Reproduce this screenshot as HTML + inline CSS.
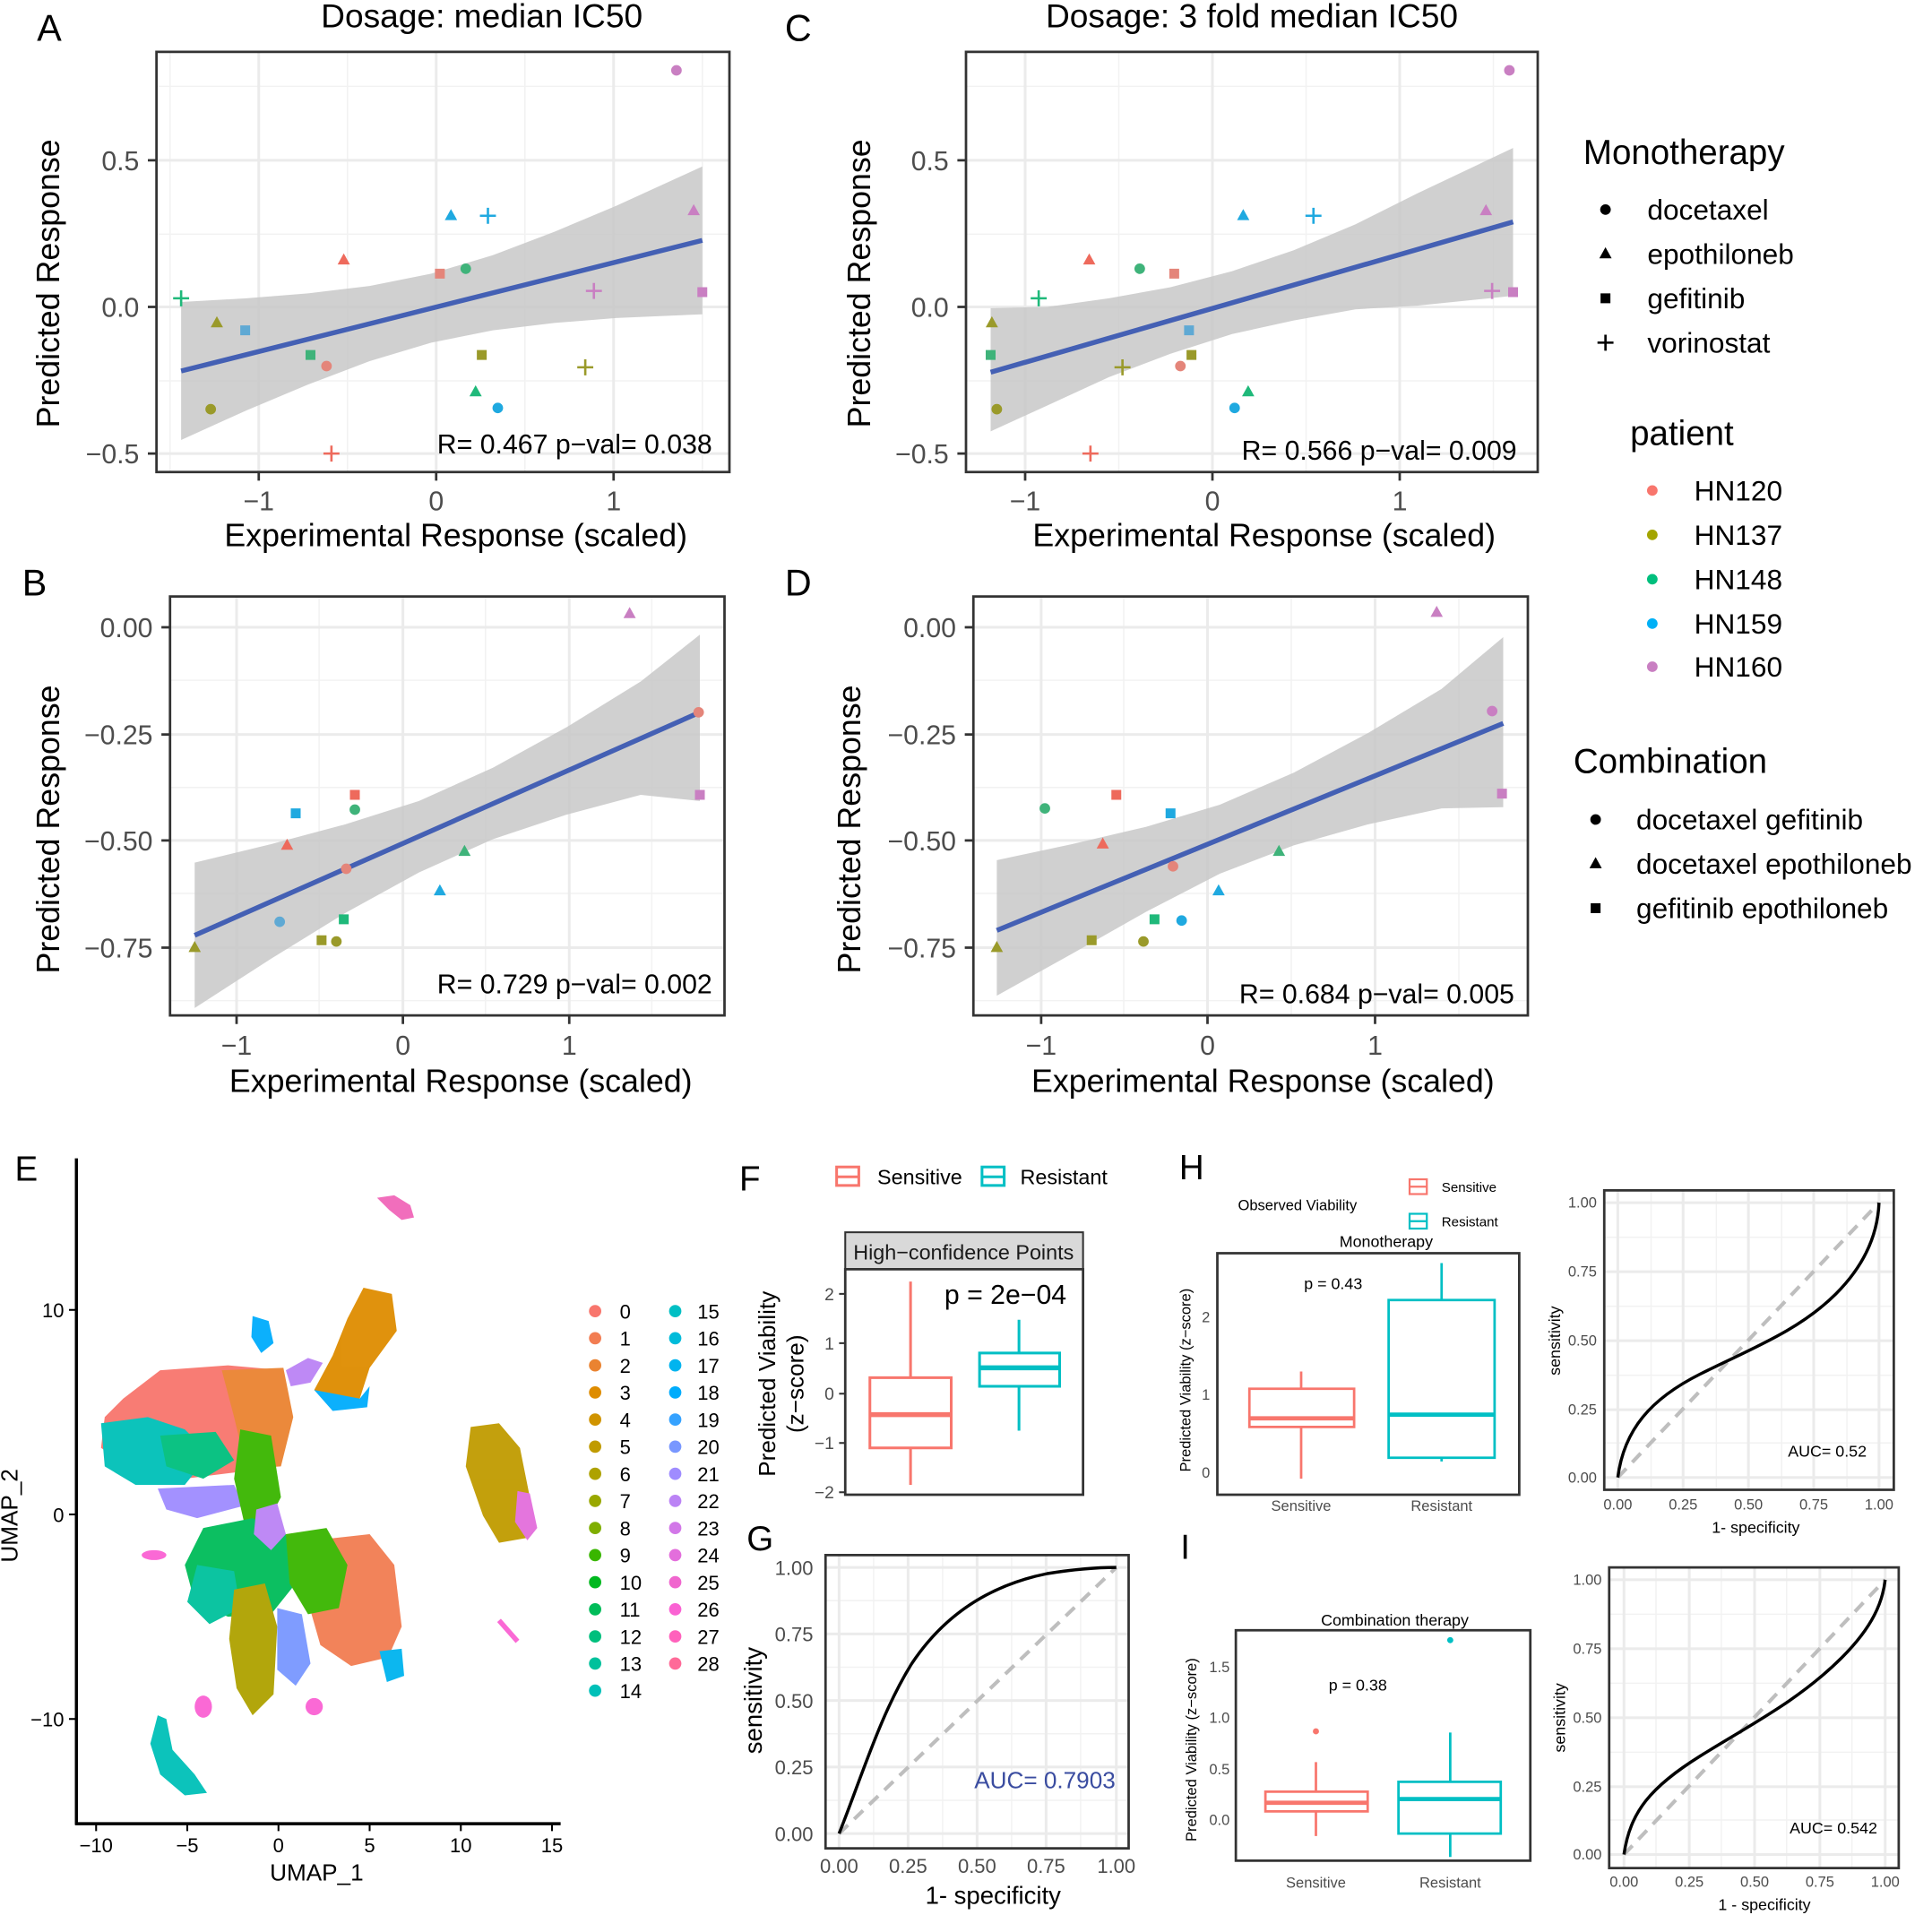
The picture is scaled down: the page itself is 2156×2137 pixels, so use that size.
<!DOCTYPE html>
<html><head><meta charset="utf-8"><style>
html,body{margin:0;padding:0;background:#fff}
svg{display:block}
text{font-family:"Liberation Sans",Arial,sans-serif;fill:#000}
.tk{font-size:22px;fill:#4d4d4d}
.tk text{fill:#4d4d4d}
.at{font-size:26px}
.sm{font-size:12px}
.sm text, text.sm{fill:#4d4d4d}
.gr text{fill:#4d4d4d}
.gM{stroke:#ebebeb;stroke-width:2.2}
.gm{stroke:#f2f2f2;stroke-width:1.1}
.bx{fill:none;stroke:#333;stroke-width:2}
</style></head><body>
<svg width="2156" height="2137" viewBox="0 0 1568 1554" xmlns="http://www.w3.org/2000/svg">
<defs>
<circle id="c" r="4.3"/>
<path id="t" d="M0,-5.5L5,3.5L-5,3.5Z"/>
<rect id="s" x="-4" y="-4" width="8" height="8"/>
<path id="p" d="M-6.5,0H6.5M0,-6.5V6.5" fill="none" stroke-width="1.9"/>
</defs>
<rect width="1568" height="1554" fill="#fff"/>

<!-- ===== Panel A ===== -->
<text x="30" y="33" font-size="30">A</text>
<text x="391" y="22" font-size="27" text-anchor="middle">Dosage: median IC50</text>
<g>
<line class="gm" x1="127" x2="592" y1="70" y2="70"/><line class="gm" x1="127" x2="592" y1="190" y2="190"/><line class="gm" x1="127" x2="592" y1="309" y2="309"/>
<line class="gm" y1="42" y2="383" x1="138" x2="138"/><line class="gm" y1="42" y2="383" x1="282" x2="282"/><line class="gm" y1="42" y2="383" x1="426" x2="426"/><line class="gm" y1="42" y2="383" x1="570" x2="570"/>
<line class="gM" x1="127" x2="592" y1="130" y2="130"/><line class="gM" x1="127" x2="592" y1="249" y2="249"/><line class="gM" x1="127" x2="592" y1="368" y2="368"/>
<line class="gM" y1="42" y2="383" x1="210" x2="210"/><line class="gM" y1="42" y2="383" x1="354" x2="354"/><line class="gM" y1="42" y2="383" x1="498" x2="498"/>
<path d="M147,245 L200,242 L250,238 L300,232 L350,222 L400,207 L450,188 L500,167 L570,135 L570,255 L500,258 L450,262 L400,268 L350,278 L300,293 L250,312 L200,333 L147,357Z" fill="#c8c8c8" opacity="0.85"/>
<line x1="147" y1="301" x2="570" y2="195" stroke="#4460b4" stroke-width="4"/>
<use href="#c" x="549" y="57" fill="#c97fc2"/><use href="#t" x="563" y="171" fill="#c97fc2"/><use href="#p" x="482" y="236" stroke="#c97fc2"/><use href="#s" x="570" y="237" fill="#c97fc2"/>
<use href="#t" x="366" y="175" fill="#1fa9e0"/><use href="#p" x="396" y="175" stroke="#1fa9e0"/><use href="#s" x="199" y="268" fill="#5fa9d4"/><use href="#c" x="404" y="331" fill="#1fa9e0"/>
<use href="#t" x="279" y="211" fill="#ee6a5c"/><use href="#s" x="357" y="222" fill="#e4857a"/><use href="#c" x="265" y="297" fill="#e4857a"/><use href="#p" x="269" y="368" stroke="#ee6a5c"/>
<use href="#c" x="378" y="218" fill="#3fb37a"/><use href="#p" x="147" y="242" stroke="#1fb97a"/><use href="#s" x="252" y="288" fill="#3fb37a"/><use href="#t" x="386" y="318" fill="#1fb97a"/>
<use href="#t" x="176" y="262" fill="#9a9a2a"/><use href="#s" x="391" y="288" fill="#9a9a2a"/><use href="#p" x="475" y="298" stroke="#9a9a2a"/><use href="#c" x="171" y="332" fill="#9a9a2a"/>
<text x="578" y="368" font-size="22" text-anchor="end">R= 0.467 p−val= 0.038</text>
<rect class="bx" x="127" y="42" width="465" height="341"/>
</g>
<g class="tk" text-anchor="end"><text x="113" y="138">0.5</text><text x="113" y="257">0.0</text><text x="113" y="376">−0.5</text></g>
<g stroke="#333" stroke-width="2"><line x1="120" x2="127" y1="130" y2="130"/><line x1="120" x2="127" y1="249" y2="249"/><line x1="120" x2="127" y1="368" y2="368"/><line x1="210" x2="210" y1="383" y2="390"/><line x1="354" x2="354" y1="383" y2="390"/><line x1="498" x2="498" y1="383" y2="390"/></g>
<g class="tk" text-anchor="middle"><text x="210" y="414">−1</text><text x="354" y="414">0</text><text x="498" y="414">1</text></g>
<text class="at" x="370" y="443" text-anchor="middle">Experimental Response (scaled)</text>
<text class="at" transform="translate(48,230) rotate(-90)" text-anchor="middle">Predicted Response</text>

<!-- ===== Panel C ===== -->
<text x="637" y="33" font-size="30">C</text>
<text x="1016" y="22" font-size="27" text-anchor="middle">Dosage: 3 fold median IC50</text>
<g>
<line class="gm" x1="784" x2="1248" y1="70" y2="70"/><line class="gm" x1="784" x2="1248" y1="190" y2="190"/><line class="gm" x1="784" x2="1248" y1="309" y2="309"/>
<line class="gm" y1="42" y2="383" x1="908" x2="908"/><line class="gm" y1="42" y2="383" x1="1060" x2="1060"/><line class="gm" y1="42" y2="383" x1="1212" x2="1212"/>
<line class="gM" x1="784" x2="1248" y1="130" y2="130"/><line class="gM" x1="784" x2="1248" y1="249" y2="249"/><line class="gM" x1="784" x2="1248" y1="368" y2="368"/>
<line class="gM" y1="42" y2="383" x1="832" x2="832"/><line class="gM" y1="42" y2="383" x1="984" x2="984"/><line class="gM" y1="42" y2="383" x1="1136" x2="1136"/>
<path d="M804,250 L850,249 L900,242 L950,233 L1000,220 L1050,203 L1100,182 L1150,157 L1228,120 L1228,240 L1150,248 L1100,251 L1050,260 L1000,271 L950,287 L900,306 L850,329 L804,350Z" fill="#c8c8c8" opacity="0.85"/>
<line x1="804" y1="302" x2="1228" y2="180" stroke="#4460b4" stroke-width="4"/>
<use href="#c" x="1225" y="57" fill="#c97fc2"/><use href="#t" x="1206" y="171" fill="#c97fc2"/><use href="#p" x="1211" y="236" stroke="#c97fc2"/><use href="#s" x="1228" y="237" fill="#c97fc2"/>
<use href="#t" x="1009" y="175" fill="#1fa9e0"/><use href="#p" x="1066" y="175" stroke="#1fa9e0"/><use href="#s" x="965" y="268" fill="#5fa9d4"/><use href="#c" x="1002" y="331" fill="#1fa9e0"/>
<use href="#t" x="884" y="211" fill="#ee6a5c"/><use href="#s" x="953" y="222" fill="#e4857a"/><use href="#c" x="958" y="297" fill="#e4857a"/><use href="#p" x="885" y="368" stroke="#ee6a5c"/>
<use href="#c" x="925" y="218" fill="#3fb37a"/><use href="#p" x="843" y="242" stroke="#1fb97a"/><use href="#s" x="804" y="288" fill="#3fb37a"/><use href="#t" x="1013" y="318" fill="#1fb97a"/>
<use href="#t" x="805" y="262" fill="#9a9a2a"/><use href="#s" x="967" y="288" fill="#9a9a2a"/><use href="#p" x="911" y="298" stroke="#9a9a2a"/><use href="#c" x="809" y="332" fill="#9a9a2a"/>
<text x="1231" y="373" font-size="22" text-anchor="end">R= 0.566 p−val= 0.009</text>
<rect class="bx" x="784" y="42" width="464" height="341"/>
</g>
<g class="tk" text-anchor="end"><text x="770" y="138">0.5</text><text x="770" y="257">0.0</text><text x="770" y="376">−0.5</text></g>
<g stroke="#333" stroke-width="2"><line x1="777" x2="784" y1="130" y2="130"/><line x1="777" x2="784" y1="249" y2="249"/><line x1="777" x2="784" y1="368" y2="368"/><line x1="832" x2="832" y1="383" y2="390"/><line x1="984" x2="984" y1="383" y2="390"/><line x1="1136" x2="1136" y1="383" y2="390"/></g>
<g class="tk" text-anchor="middle"><text x="832" y="414">−1</text><text x="984" y="414">0</text><text x="1136" y="414">1</text></g>
<text class="at" x="1026" y="443" text-anchor="middle">Experimental Response (scaled)</text>
<text class="at" transform="translate(706,230) rotate(-90)" text-anchor="middle">Predicted Response</text>

<!-- ===== Panel B ===== -->
<text x="18" y="483" font-size="30">B</text>
<g>
<line class="gm" x1="138" x2="588" y1="552" y2="552"/><line class="gm" x1="138" x2="588" y1="639" y2="639"/><line class="gm" x1="138" x2="588" y1="725" y2="725"/><line class="gm" x1="138" x2="588" y1="812" y2="812"/>
<line class="gm" y1="484" y2="824" x1="259" x2="259"/><line class="gm" y1="484" y2="824" x1="394" x2="394"/><line class="gm" y1="484" y2="824" x1="529" x2="529"/>
<line class="gM" x1="138" x2="588" y1="509" y2="509"/><line class="gM" x1="138" x2="588" y1="596" y2="596"/><line class="gM" x1="138" x2="588" y1="682" y2="682"/><line class="gM" x1="138" x2="588" y1="769" y2="769"/>
<line class="gM" y1="484" y2="824" x1="192" x2="192"/><line class="gM" y1="484" y2="824" x1="327" x2="327"/><line class="gM" y1="484" y2="824" x1="462" x2="462"/>
<path d="M158,700 L220,685 L280,669 L340,650 L400,623 L460,590 L520,553 L568,515 L568,650 L520,645 L460,661 L400,681 L340,708 L280,741 L220,778 L158,818Z" fill="#c8c8c8" opacity="0.85"/>
<line x1="158" y1="759" x2="568" y2="578" stroke="#4460b4" stroke-width="4"/>
<use href="#t" x="511" y="498" fill="#c97fc2"/><use href="#c" x="567" y="578" fill="#e4857a"/><use href="#s" x="568" y="645" fill="#c97fc2"/>
<use href="#s" x="288" y="645" fill="#ee6a5c"/><use href="#s" x="240" y="660" fill="#1fa9e0"/><use href="#c" x="288" y="657" fill="#3fb37a"/><use href="#t" x="233" y="686" fill="#ee6a5c"/><use href="#c" x="281" y="705" fill="#e4857a"/>
<use href="#t" x="377" y="691" fill="#3fb37a"/><use href="#t" x="357" y="723" fill="#1fa9e0"/><use href="#c" x="227" y="748" fill="#5fa9d4"/><use href="#s" x="279" y="746" fill="#1fb97a"/>
<use href="#s" x="261" y="763" fill="#9a9a2a"/><use href="#c" x="273" y="764" fill="#9a9a2a"/><use href="#t" x="158" y="769" fill="#9a9a2a"/>
<text x="578" y="806" font-size="22" text-anchor="end">R= 0.729 p−val= 0.002</text>
<rect class="bx" x="138" y="484" width="450" height="340"/>
</g>
<g class="tk" text-anchor="end"><text x="124" y="517">0.00</text><text x="124" y="604">−0.25</text><text x="124" y="690">−0.50</text><text x="124" y="777">−0.75</text></g>
<g stroke="#333" stroke-width="2"><line x1="131" x2="138" y1="509" y2="509"/><line x1="131" x2="138" y1="596" y2="596"/><line x1="131" x2="138" y1="682" y2="682"/><line x1="131" x2="138" y1="769" y2="769"/><line x1="192" x2="192" y1="824" y2="831"/><line x1="327" x2="327" y1="824" y2="831"/><line x1="462" x2="462" y1="824" y2="831"/></g>
<g class="tk" text-anchor="middle"><text x="192" y="856">−1</text><text x="327" y="856">0</text><text x="462" y="856">1</text></g>
<text class="at" x="374" y="886" text-anchor="middle">Experimental Response (scaled)</text>
<text class="at" transform="translate(48,673) rotate(-90)" text-anchor="middle">Predicted Response</text>

<!-- ===== Panel D ===== -->
<text x="637" y="483" font-size="30">D</text>
<g>
<line class="gm" x1="790" x2="1240" y1="552" y2="552"/><line class="gm" x1="790" x2="1240" y1="639" y2="639"/><line class="gm" x1="790" x2="1240" y1="725" y2="725"/><line class="gm" x1="790" x2="1240" y1="812" y2="812"/>
<line class="gm" y1="484" y2="824" x1="912" x2="912"/><line class="gm" y1="484" y2="824" x1="1048" x2="1048"/><line class="gm" y1="484" y2="824" x1="1184" x2="1184"/>
<line class="gM" x1="790" x2="1240" y1="509" y2="509"/><line class="gM" x1="790" x2="1240" y1="596" y2="596"/><line class="gM" x1="790" x2="1240" y1="682" y2="682"/><line class="gM" x1="790" x2="1240" y1="769" y2="769"/>
<line class="gM" y1="484" y2="824" x1="845" x2="845"/><line class="gM" y1="484" y2="824" x1="980" x2="980"/><line class="gM" y1="484" y2="824" x1="1116" x2="1116"/>
<path d="M809,698 L870,685 L930,671 L990,653 L1050,627 L1110,595 L1170,559 L1220,517 L1220,655 L1170,656 L1110,669 L1050,686 L990,709 L930,740 L870,774 L809,808Z" fill="#c8c8c8" opacity="0.85"/>
<line x1="809" y1="755" x2="1220" y2="587" stroke="#4460b4" stroke-width="4"/>
<use href="#t" x="1166" y="497" fill="#c97fc2"/><use href="#c" x="1211" y="577" fill="#c97fc2"/><use href="#s" x="1219" y="644" fill="#c97fc2"/>
<use href="#c" x="848" y="656" fill="#3fb37a"/><use href="#s" x="906" y="645" fill="#ee6a5c"/><use href="#t" x="895" y="685" fill="#ee6a5c"/><use href="#s" x="950" y="660" fill="#1fa9e0"/><use href="#c" x="952" y="703" fill="#e4857a"/>
<use href="#t" x="1038" y="691" fill="#3fb37a"/><use href="#t" x="989" y="723" fill="#1fa9e0"/><use href="#s" x="937" y="746" fill="#1fb97a"/><use href="#c" x="959" y="747" fill="#1fa9e0"/>
<use href="#s" x="886" y="763" fill="#9a9a2a"/><use href="#c" x="928" y="764" fill="#9a9a2a"/><use href="#t" x="809" y="769" fill="#9a9a2a"/>
<text x="1229" y="814" font-size="22" text-anchor="end">R= 0.684 p−val= 0.005</text>
<rect class="bx" x="790" y="484" width="450" height="340"/>
</g>
<g class="tk" text-anchor="end"><text x="776" y="517">0.00</text><text x="776" y="604">−0.25</text><text x="776" y="690">−0.50</text><text x="776" y="777">−0.75</text></g>
<g stroke="#333" stroke-width="2"><line x1="783" x2="790" y1="509" y2="509"/><line x1="783" x2="790" y1="596" y2="596"/><line x1="783" x2="790" y1="682" y2="682"/><line x1="783" x2="790" y1="769" y2="769"/><line x1="845" x2="845" y1="824" y2="831"/><line x1="980" x2="980" y1="824" y2="831"/><line x1="1116" x2="1116" y1="824" y2="831"/></g>
<g class="tk" text-anchor="middle"><text x="845" y="856">−1</text><text x="980" y="856">0</text><text x="1116" y="856">1</text></g>
<text class="at" x="1025" y="886" text-anchor="middle">Experimental Response (scaled)</text>
<text class="at" transform="translate(698,673) rotate(-90)" text-anchor="middle">Predicted Response</text>

<!-- ===== Legend ===== -->
<text x="1285" y="133" font-size="28">Monotherapy</text>
<use href="#c" x="1303" y="170" fill="#000"/><text x="1337" y="178" font-size="23">docetaxel</text>
<use href="#t" x="1303" y="206" fill="#000"/><text x="1337" y="214" font-size="23">epothiloneb</text>
<use href="#s" x="1303" y="242" fill="#000"/><text x="1337" y="250" font-size="23">gefitinib</text>
<use href="#p" x="1303" y="278" stroke="#000"/><text x="1337" y="286" font-size="23">vorinostat</text>
<text x="1323" y="361" font-size="28">patient</text>
<use href="#c" x="1341" y="398" fill="#f8766d"/><text x="1375" y="406" font-size="23">HN120</text>
<use href="#c" x="1341" y="434" fill="#a3a500"/><text x="1375" y="442" font-size="23">HN137</text>
<use href="#c" x="1341" y="470" fill="#00bf7d"/><text x="1375" y="478" font-size="23">HN148</text>
<use href="#c" x="1341" y="506" fill="#00b0f6"/><text x="1375" y="514" font-size="23">HN159</text>
<use href="#c" x="1341" y="541" fill="#c97fc2"/><text x="1375" y="549" font-size="23">HN160</text>
<text x="1277" y="627" font-size="28">Combination</text>
<use href="#c" x="1295" y="665" fill="#000"/><text x="1328" y="673" font-size="23">docetaxel gefitinib</text>
<use href="#t" x="1295" y="701" fill="#000"/><text x="1328" y="709" font-size="23">docetaxel epothiloneb</text>
<use href="#s" x="1295" y="737" fill="#000"/><text x="1328" y="745" font-size="23">gefitinib epothiloneb</text>

<!-- ===== Panel E UMAP ===== -->
<text x="12" y="958" font-size="28">E</text>
<g opacity="0.95">
<path d="M306,972 L320,970 L333,978 L336,988 L326,990 L316,982Z" fill="#f066b8"/>
<path d="M295,1045 L318,1050 L322,1080 L300,1110 L292,1135 L268,1140 L255,1128 L270,1100 L282,1070Z" fill="#de8c00"/>
<path d="M255,1128 L292,1135 L300,1125 L298,1142 L270,1145Z" fill="#00acfc"/>
<path d="M205,1068 L218,1072 L222,1090 L212,1098 L204,1085Z" fill="#00acfc"/>
<path d="M232,1112 L250,1102 L262,1106 L252,1122 L236,1125Z" fill="#bb83f5"/>
<path d="M382,1158 L405,1155 L422,1175 L430,1215 L428,1248 L405,1252 L392,1230 L378,1190Z" fill="#c09b00"/>
<path d="M420,1210 L430,1212 L436,1240 L428,1250 L418,1235Z" fill="#e36edc"/>
<path d="M100,1135 L130,1112 L185,1108 L230,1112 L235,1150 L225,1185 L190,1195 L150,1200 L105,1190 L82,1175 L85,1150Z" fill="#f8766d"/>
<path d="M180,1112 L230,1110 L238,1150 L228,1190 L200,1192 L190,1150Z" fill="#ea8331"/>
<path d="M82,1155 L120,1150 L150,1160 L170,1180 L150,1205 L110,1205 L85,1190Z" fill="#00c0b8"/>
<path d="M130,1165 L175,1162 L190,1185 L165,1200 L135,1190Z" fill="#00bf7d"/>
<path d="M128,1208 L190,1205 L198,1222 L160,1232 L135,1225Z" fill="#9f8cff"/>
<path d="M195,1160 L220,1165 L228,1215 L215,1240 L198,1235 L190,1200Z" fill="#39b600"/>
<path d="M165,1240 L205,1232 L232,1245 L240,1285 L220,1310 L185,1312 L158,1300 L150,1270Z" fill="#00bc59"/>
<path d="M160,1270 L190,1275 L195,1305 L170,1318 L152,1300Z" fill="#00c19c"/>
<path d="M255,1250 L300,1245 L320,1270 L326,1320 L315,1345 L285,1352 L260,1335 L250,1300Z" fill="#f27d52"/>
<path d="M232,1245 L265,1240 L282,1270 L275,1305 L250,1310 L235,1285Z" fill="#39b600"/>
<path d="M308,1340 L326,1338 L328,1360 L314,1365Z" fill="#00b4ef"/>
<path d="M190,1290 L215,1285 L225,1320 L222,1375 L205,1392 L192,1370 L186,1330Z" fill="#aea200"/>
<path d="M225,1305 L245,1310 L252,1350 L240,1368 L225,1355Z" fill="#7997ff"/>
<path d="M208,1225 L225,1220 L232,1245 L220,1258 L206,1245Z" fill="#bb83f5"/>
<ellipse cx="125" cy="1262" rx="10" ry="4" fill="#fa62d3"/>
<ellipse cx="165" cy="1385" rx="7" ry="9" fill="#fa62d3"/>
<ellipse cx="255" cy="1385" rx="7" ry="7" fill="#fa62d3"/>
<line x1="405" y1="1315" x2="420" y2="1332" stroke="#fa62d3" stroke-width="4"/>
<path d="M128,1392 L135,1395 L140,1420 L158,1440 L168,1455 L150,1457 L130,1440 L122,1415Z" fill="#00c0b8"/>
</g>
<g stroke="#000" stroke-width="2.5"><line x1="62" y1="940" x2="62" y2="1481"/><line x1="61" y1="1480" x2="455" y2="1480"/></g>
<g stroke="#000" stroke-width="1.5"><line x1="56" x2="62" y1="1063" y2="1063"/><line x1="56" x2="62" y1="1229" y2="1229"/><line x1="56" x2="62" y1="1395" y2="1395"/>
<line x1="78" x2="78" y1="1480" y2="1486"/><line x1="152" x2="152" y1="1480" y2="1486"/><line x1="226" x2="226" y1="1480" y2="1486"/><line x1="300" x2="300" y1="1480" y2="1486"/><line x1="374" x2="374" y1="1480" y2="1486"/><line x1="448" x2="448" y1="1480" y2="1486"/></g>
<g font-size="16" text-anchor="end"><text x="52" y="1069">10</text><text x="52" y="1235">0</text><text x="52" y="1401">−10</text></g>
<g font-size="16" text-anchor="middle"><text x="78" y="1503">−10</text><text x="152" y="1503">−5</text><text x="226" y="1503">0</text><text x="300" y="1503">5</text><text x="374" y="1503">10</text><text x="448" y="1503">15</text></g>
<text x="257" y="1526" font-size="19" text-anchor="middle">UMAP_1</text>
<text transform="translate(14,1230) rotate(-90)" font-size="19" text-anchor="middle">UMAP_2</text>
<g font-size="16">
<circle cx="483" cy="1064" r="5" fill="#f8766d"/><text x="503" y="1070">0</text>
<circle cx="483" cy="1086" r="5" fill="#f27d52"/><text x="503" y="1092">1</text>
<circle cx="483" cy="1108" r="5" fill="#ea8331"/><text x="503" y="1114">2</text>
<circle cx="483" cy="1130" r="5" fill="#de8c00"/><text x="503" y="1136">3</text>
<circle cx="483" cy="1152" r="5" fill="#d09400"/><text x="503" y="1158">4</text>
<circle cx="483" cy="1174" r="5" fill="#c09b00"/><text x="503" y="1180">5</text>
<circle cx="483" cy="1196" r="5" fill="#aea200"/><text x="503" y="1202">6</text>
<circle cx="483" cy="1218" r="5" fill="#99a800"/><text x="503" y="1224">7</text>
<circle cx="483" cy="1240" r="5" fill="#7fae00"/><text x="503" y="1246">8</text>
<circle cx="483" cy="1262" r="5" fill="#39b600"/><text x="503" y="1268">9</text>
<circle cx="483" cy="1284" r="5" fill="#00b81f"/><text x="503" y="1290">10</text>
<circle cx="483" cy="1306" r="5" fill="#00bc59"/><text x="503" y="1312">11</text>
<circle cx="483" cy="1328" r="5" fill="#00bf7d"/><text x="503" y="1334">12</text>
<circle cx="483" cy="1350" r="5" fill="#00c19c"/><text x="503" y="1356">13</text>
<circle cx="483" cy="1372" r="5" fill="#00c0b8"/><text x="503" y="1378">14</text>
<circle cx="548" cy="1064" r="5" fill="#00bfc4"/><text x="566" y="1070">15</text>
<circle cx="548" cy="1086" r="5" fill="#00bbda"/><text x="566" y="1092">16</text>
<circle cx="548" cy="1108" r="5" fill="#00b4ef"/><text x="566" y="1114">17</text>
<circle cx="548" cy="1130" r="5" fill="#00acfc"/><text x="566" y="1136">18</text>
<circle cx="548" cy="1152" r="5" fill="#35a2ff"/><text x="566" y="1158">19</text>
<circle cx="548" cy="1174" r="5" fill="#7997ff"/><text x="566" y="1180">20</text>
<circle cx="548" cy="1196" r="5" fill="#9f8cff"/><text x="566" y="1202">21</text>
<circle cx="548" cy="1218" r="5" fill="#bb83f5"/><text x="566" y="1224">22</text>
<circle cx="548" cy="1240" r="5" fill="#d277e8"/><text x="566" y="1246">23</text>
<circle cx="548" cy="1262" r="5" fill="#e36edc"/><text x="566" y="1268">24</text>
<circle cx="548" cy="1284" r="5" fill="#f066ce"/><text x="566" y="1290">25</text>
<circle cx="548" cy="1306" r="5" fill="#fa62d3"/><text x="566" y="1312">26</text>
<circle cx="548" cy="1328" r="5" fill="#ff62bc"/><text x="566" y="1334">27</text>
<circle cx="548" cy="1350" r="5" fill="#ff6a98"/><text x="566" y="1356">28</text>
</g>

<!-- ===== Panel F ===== -->
<text x="600" y="966" font-size="28">F</text>
<g stroke-width="2.2" fill="none">
<rect x="679" y="947" width="18" height="15" stroke="#f8766d"/><line x1="679" x2="697" y1="955" y2="955" stroke="#f8766d"/>
<rect x="797" y="947" width="18" height="15" stroke="#00bfc4"/><line x1="797" x2="815" y1="955" y2="955" stroke="#00bfc4"/>
</g>
<text x="712" y="961" font-size="17">Sensitive</text><text x="828" y="961" font-size="17">Resistant</text>
<rect x="686" y="1000" width="193" height="30" fill="#d9d9d9" stroke="#333" stroke-width="1.5"/>
<text x="782" y="1022" font-size="17" text-anchor="middle" style="fill:#1a1a1a">High−confidence Points</text>
<rect class="bx" x="686" y="1030" width="193" height="183"/>
<g stroke="#f8766d" stroke-width="2.2" fill="none"><line x1="739" x2="739" y1="1040" y2="1118"/><line x1="739" x2="739" y1="1175" y2="1205"/><rect x="706" y="1118" width="66" height="57" fill="#fff"/><line x1="706" x2="772" y1="1148" y2="1148" stroke-width="4"/></g>
<g stroke="#00bfc4" stroke-width="2.2" fill="none"><line x1="827" x2="827" y1="1071" y2="1098"/><line x1="827" x2="827" y1="1125" y2="1161"/><rect x="795" y="1098" width="65" height="27" fill="#fff"/><line x1="795" x2="860" y1="1110" y2="1110" stroke-width="4"/></g>
<text x="816" y="1058" font-size="22" text-anchor="middle">p = 2e−04</text>
<g class="gr" font-size="14" text-anchor="end"><text x="677" y="1055">2</text><text x="677" y="1095">1</text><text x="677" y="1136">0</text><text x="677" y="1176">−1</text><text x="677" y="1216">−2</text></g>
<g stroke="#333" stroke-width="1.5"><line x1="681" x2="686" y1="1050" y2="1050"/><line x1="681" x2="686" y1="1090" y2="1090"/><line x1="681" x2="686" y1="1131" y2="1131"/><line x1="681" x2="686" y1="1171" y2="1171"/><line x1="681" x2="686" y1="1211" y2="1211"/></g>
<text transform="translate(629,1123) rotate(-90)" font-size="19" text-anchor="middle">Predicted Viability</text>
<text transform="translate(652,1123) rotate(-90)" font-size="19" text-anchor="middle">(z−score)</text>

<!-- ===== Panel G ===== -->
<text x="606" y="1258" font-size="28">G</text>
<g>
<line class="gm" x1="670" x2="916" y1="1299" y2="1299"/><line class="gm" x1="670" x2="916" y1="1353" y2="1353"/><line class="gm" x1="670" x2="916" y1="1407" y2="1407"/><line class="gm" x1="670" x2="916" y1="1461" y2="1461"/>
<line class="gm" y1="1262" y2="1500" x1="709" x2="709"/><line class="gm" y1="1262" y2="1500" x1="765" x2="765"/><line class="gm" y1="1262" y2="1500" x1="821" x2="821"/><line class="gm" y1="1262" y2="1500" x1="877" x2="877"/>
<line class="gM" x1="670" x2="916" y1="1272" y2="1272"/><line class="gM" x1="670" x2="916" y1="1326" y2="1326"/><line class="gM" x1="670" x2="916" y1="1380" y2="1380"/><line class="gM" x1="670" x2="916" y1="1434" y2="1434"/><line class="gM" x1="670" x2="916" y1="1488" y2="1488"/>
<line class="gM" y1="1262" y2="1500" x1="681" x2="681"/><line class="gM" y1="1262" y2="1500" x1="737" x2="737"/><line class="gM" y1="1262" y2="1500" x1="793" x2="793"/><line class="gM" y1="1262" y2="1500" x1="849" x2="849"/><line class="gM" y1="1262" y2="1500" x1="906" x2="906"/>
<line x1="681" y1="1488" x2="906" y2="1272" stroke="#bebebe" stroke-width="3" stroke-dasharray="10,7"/>
<path d="M681,1488 C700,1440 715,1390 740,1350 C770,1305 810,1285 850,1277 C875,1273 895,1272 906,1272" fill="none" stroke="#000" stroke-width="2.5"/>
<text x="848" y="1451" font-size="19" text-anchor="middle" style="fill:#3a4ca0">AUC= 0.7903</text>
<rect class="bx" x="670" y="1262" width="246" height="238"/>
</g>
<g class="gr" font-size="16" text-anchor="end"><text x="660" y="1278">1.00</text><text x="660" y="1332">0.75</text><text x="660" y="1386">0.50</text><text x="660" y="1440">0.25</text><text x="660" y="1494">0.00</text></g>
<g class="gr" font-size="16" text-anchor="middle"><text x="681" y="1520">0.00</text><text x="737" y="1520">0.25</text><text x="793" y="1520">0.50</text><text x="849" y="1520">0.75</text><text x="906" y="1520">1.00</text></g>
<text x="806" y="1545" font-size="20" text-anchor="middle">1- specificity</text>
<text transform="translate(618,1380) rotate(-90)" font-size="20" text-anchor="middle">sensitivity</text>

<!-- ===== Panel H ===== -->
<text x="957" y="957" font-size="28">H</text>
<text x="1053" y="982" font-size="12" text-anchor="middle">Observed Viability</text>
<g stroke-width="1.6" fill="none">
<rect x="1144" y="957" width="14" height="12" stroke="#f8766d"/><line x1="1144" x2="1158" y1="963" y2="963" stroke="#f8766d"/>
<rect x="1144" y="985" width="14" height="12" stroke="#00bfc4"/><line x1="1144" x2="1158" y1="991" y2="991" stroke="#00bfc4"/>
</g>
<text x="1170" y="967" font-size="11">Sensitive</text><text x="1170" y="995" font-size="11">Resistant</text>
<text x="1125" y="1012" font-size="13" text-anchor="middle">Monotherapy</text>
<rect class="bx" x="988" y="1017" width="245" height="196"/>
<g stroke="#f8766d" stroke-width="2" fill="none"><line x1="1056" x2="1056" y1="1113" y2="1127"/><line x1="1056" x2="1056" y1="1158" y2="1200"/><rect x="1014" y="1127" width="85" height="31" fill="#fff"/><line x1="1014" x2="1099" y1="1151" y2="1151" stroke-width="3.5"/></g>
<g stroke="#00bfc4" stroke-width="2" fill="none"><line x1="1170" x2="1170" y1="1025" y2="1055"/><line x1="1170" x2="1170" y1="1183" y2="1186"/><rect x="1127" y="1055" width="86" height="128" fill="#fff"/><line x1="1127" x2="1213" y1="1148" y2="1148" stroke-width="3.5"/></g>
<text x="1082" y="1046" font-size="13" text-anchor="middle">p = 0.43</text>
<g class="sm" text-anchor="end"><text x="982" y="1199">0</text><text x="982" y="1136">1</text><text x="982" y="1073">2</text></g>
<g class="sm" text-anchor="middle"><text x="1056" y="1226">Sensitive</text><text x="1170" y="1226">Resistant</text></g>
<text transform="translate(966,1120) rotate(-90)" font-size="12" text-anchor="middle">Predicted Viability (z−score)</text>

<!-- ROC H -->
<g>
<line class="gm" x1="1302" x2="1537" y1="1004" y2="1004"/><line class="gm" x1="1302" x2="1537" y1="1060" y2="1060"/><line class="gm" x1="1302" x2="1537" y1="1116" y2="1116"/><line class="gm" x1="1302" x2="1537" y1="1171" y2="1171"/>
<line class="gm" y1="966" y2="1209" x1="1340" x2="1340"/><line class="gm" y1="966" y2="1209" x1="1393" x2="1393"/><line class="gm" y1="966" y2="1209" x1="1446" x2="1446"/><line class="gm" y1="966" y2="1209" x1="1499" x2="1499"/>
<line class="gM" x1="1302" x2="1537" y1="976" y2="976"/><line class="gM" x1="1302" x2="1537" y1="1032" y2="1032"/><line class="gM" x1="1302" x2="1537" y1="1088" y2="1088"/><line class="gM" x1="1302" x2="1537" y1="1144" y2="1144"/><line class="gM" x1="1302" x2="1537" y1="1199" y2="1199"/>
<line class="gM" y1="966" y2="1209" x1="1313" x2="1313"/><line class="gM" y1="966" y2="1209" x1="1366" x2="1366"/><line class="gM" y1="966" y2="1209" x1="1419" x2="1419"/><line class="gM" y1="966" y2="1209" x1="1472" x2="1472"/><line class="gM" y1="966" y2="1209" x1="1525" x2="1525"/>
<line x1="1313" y1="1199" x2="1525" y2="976" stroke="#bebebe" stroke-width="3" stroke-dasharray="10,7"/>
<path d="M1313,1199 C1318,1160 1340,1135 1380,1115 C1420,1095 1460,1080 1490,1050 C1515,1025 1524,1000 1525,976" fill="none" stroke="#000" stroke-width="2.5"/>
<text x="1483" y="1182" font-size="13" text-anchor="middle">AUC= 0.52</text>
<rect class="bx" x="1302" y="966" width="235" height="243"/>
</g>
<g class="sm" text-anchor="end"><text x="1296" y="980">1.00</text><text x="1296" y="1036">0.75</text><text x="1296" y="1092">0.50</text><text x="1296" y="1148">0.25</text><text x="1296" y="1203">0.00</text></g>
<g class="sm" text-anchor="middle"><text x="1313" y="1225">0.00</text><text x="1366" y="1225">0.25</text><text x="1419" y="1225">0.50</text><text x="1472" y="1225">0.75</text><text x="1525" y="1225">1.00</text></g>
<text x="1425" y="1244" font-size="13" text-anchor="middle">1- specificity</text>
<text transform="translate(1266,1088) rotate(-90)" font-size="13" text-anchor="middle">sensitivity</text>

<!-- ===== Panel I ===== -->
<text x="958" y="1265" font-size="28">I</text>
<text x="1132" y="1319" font-size="13" text-anchor="middle">Combination therapy</text>
<rect class="bx" x="1003" y="1323" width="239" height="187"/>
<g stroke="#f8766d" stroke-width="2" fill="none"><line x1="1068" x2="1068" y1="1430" y2="1454"/><line x1="1068" x2="1068" y1="1470" y2="1490"/><rect x="1027" y="1454" width="83" height="16" fill="#fff"/><line x1="1027" x2="1110" y1="1463" y2="1463" stroke-width="3.5"/></g>
<circle cx="1068" cy="1405" r="2.5" fill="#f8766d"/>
<g stroke="#00bfc4" stroke-width="2" fill="none"><line x1="1177" x2="1177" y1="1406" y2="1446"/><line x1="1177" x2="1177" y1="1488" y2="1507"/><rect x="1135" y="1446" width="83" height="42" fill="#fff"/><line x1="1135" x2="1218" y1="1460" y2="1460" stroke-width="3.5"/></g>
<circle cx="1177" cy="1331" r="2.5" fill="#00bfc4"/>
<text x="1102" y="1372" font-size="13" text-anchor="middle">p = 0.38</text>
<g class="sm" text-anchor="end" font-size="11"><text x="998" y="1481">0.0</text><text x="998" y="1440">0.5</text><text x="998" y="1398">1.0</text><text x="998" y="1357">1.5</text></g>
<g class="sm" text-anchor="middle"><text x="1068" y="1532">Sensitive</text><text x="1177" y="1532">Resistant</text></g>
<text transform="translate(971,1420) rotate(-90)" font-size="12" text-anchor="middle">Predicted Viability (z−score)</text>

<!-- ROC I -->
<g>
<line class="gm" x1="1306" x2="1541" y1="1310" y2="1310"/><line class="gm" x1="1306" x2="1541" y1="1366" y2="1366"/><line class="gm" x1="1306" x2="1541" y1="1422" y2="1422"/><line class="gm" x1="1306" x2="1541" y1="1477" y2="1477"/>
<line class="gm" y1="1272" y2="1516" x1="1344" x2="1344"/><line class="gm" y1="1272" y2="1516" x1="1397" x2="1397"/><line class="gm" y1="1272" y2="1516" x1="1450" x2="1450"/><line class="gm" y1="1272" y2="1516" x1="1503" x2="1503"/>
<line class="gM" x1="1306" x2="1541" y1="1282" y2="1282"/><line class="gM" x1="1306" x2="1541" y1="1338" y2="1338"/><line class="gM" x1="1306" x2="1541" y1="1394" y2="1394"/><line class="gM" x1="1306" x2="1541" y1="1450" y2="1450"/><line class="gM" x1="1306" x2="1541" y1="1505" y2="1505"/>
<line class="gM" y1="1272" y2="1516" x1="1318" x2="1318"/><line class="gM" y1="1272" y2="1516" x1="1371" x2="1371"/><line class="gM" y1="1272" y2="1516" x1="1424" x2="1424"/><line class="gM" y1="1272" y2="1516" x1="1477" x2="1477"/><line class="gM" y1="1272" y2="1516" x1="1530" x2="1530"/>
<line x1="1318" y1="1505" x2="1530" y2="1282" stroke="#bebebe" stroke-width="3" stroke-dasharray="10,7"/>
<path d="M1318,1505 C1323,1470 1340,1450 1380,1425 C1420,1400 1460,1380 1495,1345 C1520,1320 1528,1300 1530,1282" fill="none" stroke="#000" stroke-width="2.5"/>
<text x="1488" y="1488" font-size="13" text-anchor="middle">AUC= 0.542</text>
<rect class="bx" x="1306" y="1272" width="235" height="244"/>
</g>
<g class="sm" text-anchor="end"><text x="1300" y="1286">1.00</text><text x="1300" y="1342">0.75</text><text x="1300" y="1398">0.50</text><text x="1300" y="1454">0.25</text><text x="1300" y="1509">0.00</text></g>
<g class="sm" text-anchor="middle"><text x="1318" y="1531">0.00</text><text x="1371" y="1531">0.25</text><text x="1424" y="1531">0.50</text><text x="1477" y="1531">0.75</text><text x="1530" y="1531">1.00</text></g>
<text x="1432" y="1550" font-size="13" text-anchor="middle">1 - specificity</text>
<text transform="translate(1270,1394) rotate(-90)" font-size="13" text-anchor="middle">sensitivity</text>
</svg>
</body></html>
